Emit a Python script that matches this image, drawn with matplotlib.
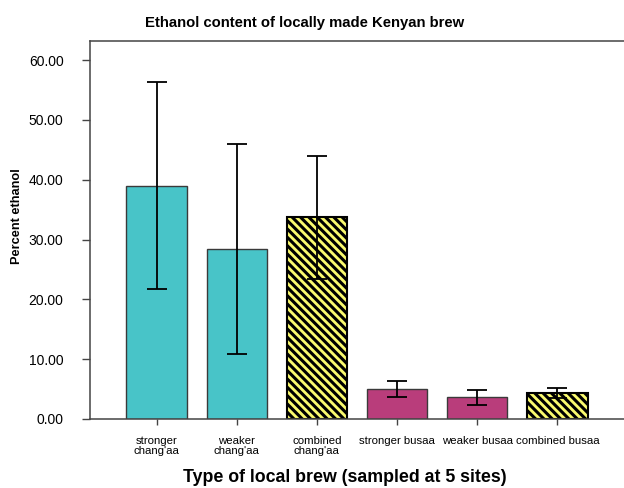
import matplotlib
matplotlib.use("Agg")
import matplotlib.pyplot as plt
import numpy as np

categories = ["stronger\nchang'aa", "weaker\nchang'aa", "combined\nchang'aa",
              "stronger busaa", "weaker busaa", "combined busaa"]
means = [39.0, 28.4, 33.7, 5.0, 3.6, 4.4]
errors = [17.3, 17.5, 10.3, 1.3, 1.2, 0.85]
colors = ["#48C4C8", "#48C4C8", "#FAFA6E", "#B93D7B", "#B93D7B", "#FAFA6E"]
hatches = [None, None, "\\\\\\\\", None, None, "\\\\\\\\"]
yticks = [0, 10, 20, 30, 40, 50, 60]

plt.rcParams['font.family'] = ['Liberation Sans', 'DejaVu Sans']
plt.rcParams['hatch.linewidth'] = 2.2
plt.rcParams['hatch.color'] = 'black'

fig = plt.figure(figsize=(6.24, 4.88), dpi=100)
ax = fig.add_axes([90/624, 69/488, 1 - 90/624, (419-41)/488])

x = np.arange(len(categories))
for i in range(len(categories)):
    ax.bar(x[i], means[i], width=0.75, color=colors[i],
           edgecolor='black' if hatches[i] else '#3a3a3a',
           linewidth=1.5 if hatches[i] else 1.0,
           hatch=hatches[i], zorder=2)
ax.errorbar(x, means, yerr=errors, fmt='none', ecolor='black',
            elinewidth=1.3, capsize=7.2, capthick=1.3, zorder=3)

ax.set_xlim(-0.83, 5.83)
ax.set_ylim(0, 63.2)
ax.set_yticks(yticks)
ax.set_yticklabels([f"{v:.2f}" for v in yticks], fontsize=10)
ax.set_xticks(x)
ax.set_xticklabels(categories, fontsize=8.2, linespacing=0.95)

for s in ['left', 'bottom', 'top']:
    ax.spines[s].set_color('#444444')
    ax.spines[s].set_linewidth(1.1)
ax.spines['right'].set_visible(False)
ax.tick_params(axis='y', direction='out', length=6, width=1.0, color='#444444', pad=13)
ax.tick_params(axis='x', direction='out', length=4.3, width=1.0, color='#444444', pad=8)

fig.text(305/624, 1 - 23/488, "Ethanol content of locally made Kenyan brew",
         ha='center', va='center', fontsize=10.7, fontweight='bold')
fig.text(345/624, 1 - 478/488, "Type of local brew (sampled at 5 sites)",
         ha='center', va='center', fontsize=12.8, fontweight='bold')
fig.text(17/624, 1 - 216/488, "Percent ethanol", rotation=90,
         ha='center', va='center', fontsize=9.2, fontweight='bold')

fig.savefig("out.png", dpi=100)
